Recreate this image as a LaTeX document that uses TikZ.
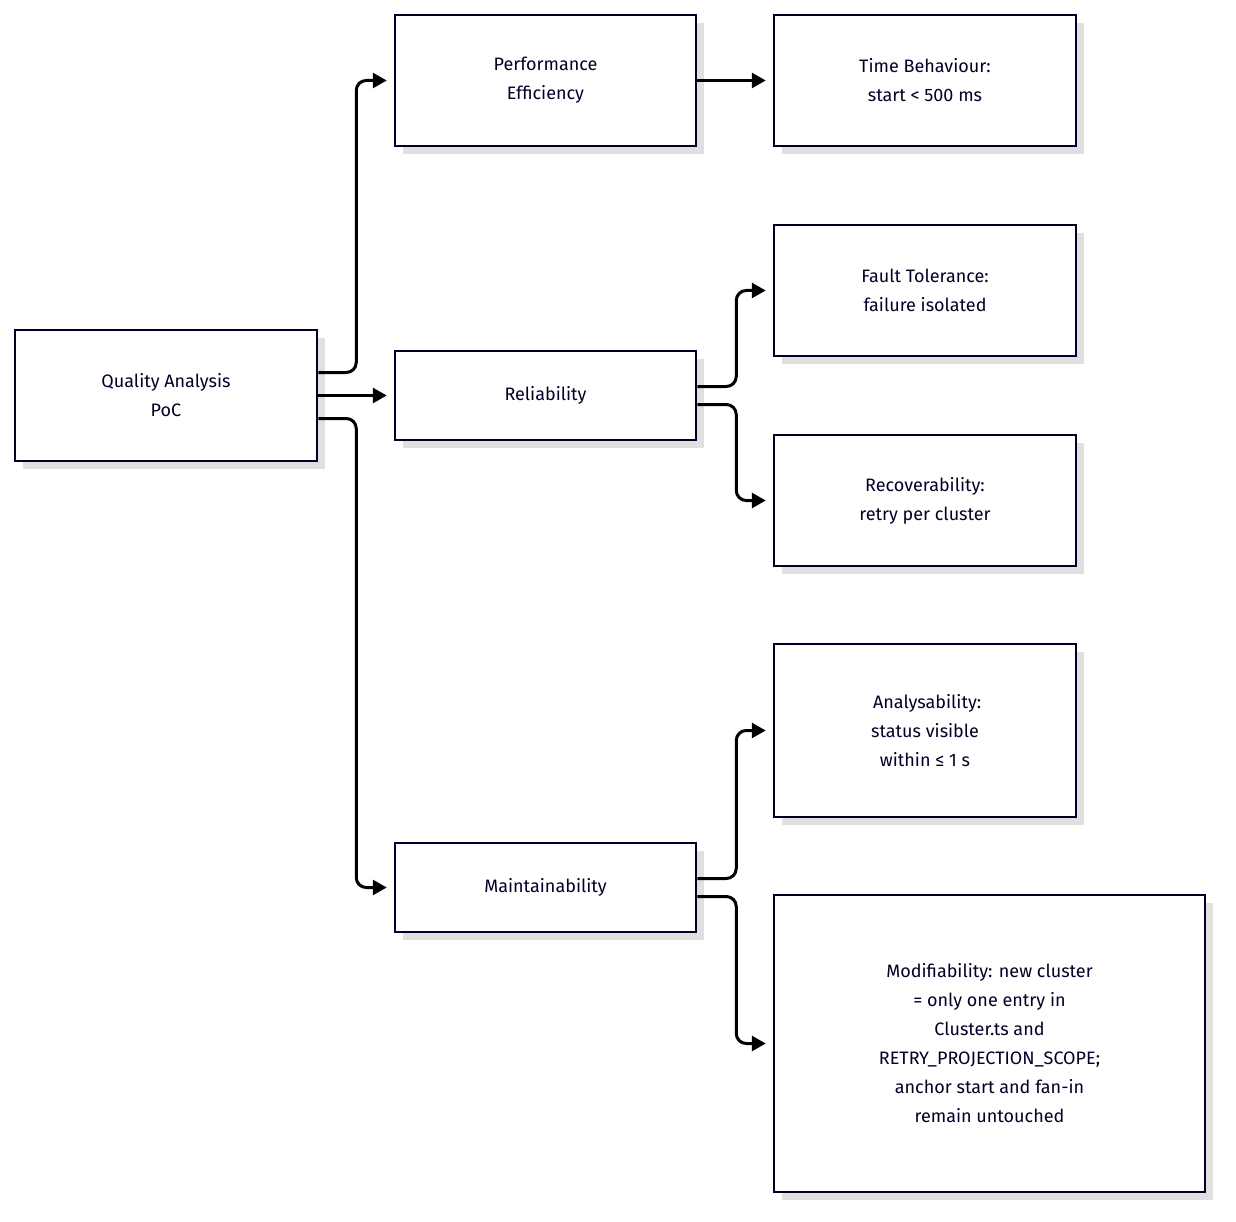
\documentclass[tikz,border=0pt]{standalone}
\usepackage{fontspec}
\setmainfont{Fira Sans}
\usetikzlibrary{arrows.meta}
\begin{document}
\begin{tikzpicture}[x=1pt,y=-1pt,
  box/.style={draw=black!85!blue,line width=2.5pt,fill=white,align=center,font=\fontsize{18}{29}\selectfont,text=black!85!blue,inner sep=0pt},
  conn/.style={line width=3pt,rounded corners=10pt,-{Triangle[length=14pt,width=15pt]},shorten >=7pt}]
\useasboundingbox (0,0) rectangle (1236,1222);
\newcommand{\bx}[6]{%
  \fill[black!12] (#2+8,#4+8) rectangle (#3+8,#5+8);
  \node[box,minimum width=#3-#2,minimum height=#5-#4] (#1) at ({(#2+#3)/2},{(#4+#5)/2}) {#6};}
\bx{q}{15}{317}{330}{461}{Quality Analysis\\PoC}
\bx{pe}{395}{696}{15}{146}{Performance\\Efficiency}
\bx{r}{395}{696}{351}{440}{Reliability}
\bx{m}{395}{696}{843}{932}{Maintainability}
\bx{tb}{774}{1076}{15}{146}{Time Behaviour:\\start < 500 ms}
\bx{ft}{774}{1076}{225}{356}{Fault Tolerance:\\failure isolated}
\bx{rc}{774}{1076}{435}{566}{Recoverability:\\retry per cluster}
\bx{an}{774}{1076}{644}{817}{Analysabilit\rlap{y:}\phantom{y}\\status visible\\within ≤ 1 s}
\bx{mo}{774}{1205}{895}{1192}{Modifiability: new cluster\\= only one entry in\\Cluster.ts and\\RETRY\_PROJECTION\_SCOPE;\\anchor start and fan-in\\remain untouched}
\draw[conn] ([yshift=23pt]q.east) -- ++(38,0) |- (pe.west);
\draw[conn] (q.east) -- (r.west);
\draw[conn] ([yshift=-23pt]q.east) -- ++(38,0) |- (m.west);
\draw[conn] (pe.east) -- (tb.west);
\draw[conn] ([yshift=9pt]r.east) -- ++(39,0) |- (ft.west);
\draw[conn] ([yshift=-9pt]r.east) -- ++(39,0) |- (rc.west);
\draw[conn] ([yshift=9pt]m.east) -- ++(39,0) |- (an.west);
\draw[conn] ([yshift=-9pt]m.east) -- ++(39,0) |- (mo.west);
\end{tikzpicture}
\end{document}
